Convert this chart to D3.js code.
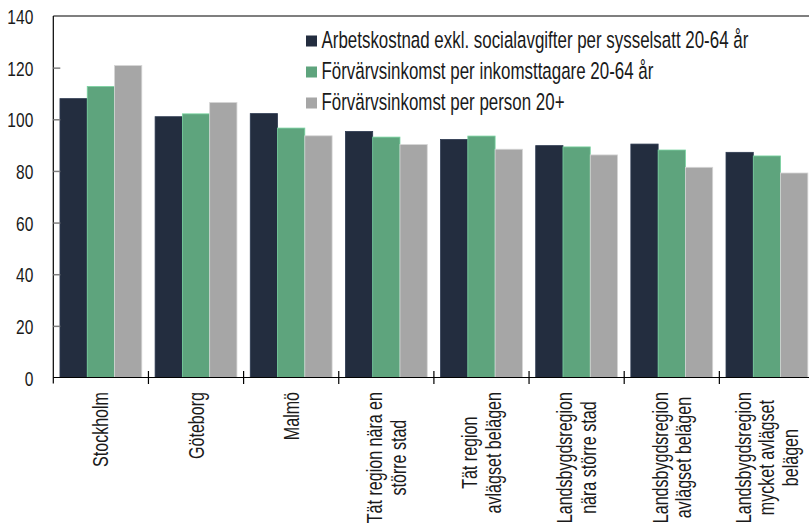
<!DOCTYPE html>
<html>
<head>
<meta charset="utf-8">
<script src="https://cdn.jsdelivr.net/npm/d3@7"></script>
<style>
  html, body { margin: 0; padding: 0; background: #fff; }
  svg { display: block; }
  text { font-family: "Liberation Sans", Arial, sans-serif; fill: #1a1a1a; }
</style>
</head>
<body>
<svg id="chart" width="809" height="526"></svg>
<script>
const categories = [
  ["Stockholm"],
  ["Göteborg"],
  ["Malmö"],
  ["Tät region nära en", "större stad"],
  ["Tät region", "avlägset belägen"],
  ["Landsbygdsregion", "nära större stad"],
  ["Landsbygdsregion", "avlägset belägen"],
  ["Landsbygdsregion", "mycket avlägset", "belägen"]
];
const seriesNames = [
  "Arbetskostnad exkl. socialavgifter per sysselsatt 20-64 år",
  "Förvärvsinkomst per inkomsttagare 20-64 år",
  "Förvärvsinkomst per person 20+"
];
const arbetskostnad = [108, 101, 102.2, 95.3, 92.2, 89.8, 90.4, 87.2];
const inkomstTagare = [112.7, 102.1, 96.6, 93.1, 93.5, 89.3, 88.1, 85.8];
const inkomstPerson = [120.8, 106.5, 93.6, 90.2, 88.4, 86.2, 81.4, 79.2];
const yTicks = [0, 20, 40, 60, 80, 100, 120, 140];
const colors = ["#232d3f", "#5ea47d", "#a6a6a6"];

const seriesValues = [arbetskostnad, inkomstTagare, inkomstPerson];
const catKeys = categories.map(c => c.join(" "));

const svg = d3.select("#chart");
const mLeft = 53.3, plotRight = 814.5, mTop = 16, mBottom = 377.5;

const x0 = d3.scaleBand().domain(catKeys).range([mLeft, plotRight]).padding(0);
const bw = x0.bandwidth();
const x1 = d3.scaleBand().domain(d3.range(3)).range([bw * 0.07, bw * 0.93]).padding(0);
const y = d3.scaleLinear().domain([0, 140]).range([mBottom, mTop]);

// Bars
const groups = svg.append("g").selectAll("g")
  .data(catKeys).join("g")
  .attr("transform", d => `translate(${x0(d)},0)`);

groups.selectAll("rect")
  .data((d, i) => seriesValues.map((vals, s) => ({ s, v: vals[i] })))
  .join("rect")
  .attr("x", d => x1(d.s))
  .attr("width", x1.bandwidth())
  .attr("y", d => y(d.v))
  .attr("height", d => y(0) - y(d.v))
  .attr("fill", d => colors[d.s])
  .attr("stroke", d => d3.color(colors[d.s]).brighter(0.7))
  .attr("stroke-width", 0.8);

// Frame top line
svg.append("line")
  .attr("x1", mLeft).attr("x2", 809).attr("y1", mTop).attr("y2", mTop)
  .attr("stroke", "#000").attr("stroke-width", 1.2);

// Y axis
const yAxis = d3.axisLeft(y).tickValues(yTicks).tickSize(-7).tickPadding(20);
const yg = svg.append("g").attr("transform", `translate(${mLeft},0)`).call(yAxis);
yg.select(".domain").attr("stroke", "#000").attr("stroke-width", 1.2)
  .attr("d", `M0,${mTop}V${mBottom + 6}`);
yg.selectAll(".tick line").attr("stroke", "#808080").attr("stroke-width", 1.5)
  .attr("display", d => (d === 0 || d === 140) ? "none" : null);
yg.selectAll(".tick text")
  .attr("font-size", "21px").attr("fill", "#1a1a1a")
  .attr("text-anchor", "end").attr("dy", "0.36em")
  .attr("x", 0)
  .attr("transform", "translate(-20,0) scale(0.74,1)")
  .style("font-family", "'Liberation Sans', Arial, sans-serif");

// X axis line
svg.append("line")
  .attr("x1", mLeft).attr("x2", 809).attr("y1", mBottom).attr("y2", mBottom)
  .attr("stroke", "#000").attr("stroke-width", 1.2);
// boundary ticks
const bounds = catKeys.map(k => x0(k)).slice(1);
svg.append("g").selectAll("line").data(bounds).join("line")
  .attr("x1", d => d).attr("x2", d => d)
  .attr("y1", mBottom - 6.5).attr("y2", mBottom + 6.5)
  .attr("stroke", "#000").attr("stroke-width", 1.2);

// Category labels
const lh = 23.5;
const labelTop = 392;
const kCat = 0.73;
categories.forEach((lines, i) => {
  const cx = x0(catKeys[i]) + bw / 2;
  const g = svg.append("g");
  const n = lines.length;
  const texts = g.selectAll("text").data(lines).join("text")
    .attr("text-anchor", "middle")
    .attr("font-size", "22px")
    .attr("x", 0)
    .attr("y", (d, j) => (j - (n - 1) / 2) * lh + 7.5)
    .text(d => d);
  let maxL = 0;
  texts.each(function () { maxL = Math.max(maxL, this.getComputedTextLength()); });
  g.attr("transform", `translate(${cx},${labelTop + maxL * kCat / 2}) rotate(-90) scale(${kCat},1)`);
});

// Legend
const legend = svg.append("g");
const legendRows = [41, 72, 103];
seriesNames.forEach((name, i) => {
  legend.append("rect")
    .attr("x", 306).attr("y", legendRows[i] - 5.5)
    .attr("width", 11).attr("height", 11)
    .attr("fill", colors[i]);
  legend.append("text")
    .attr("transform", `translate(321.5,${legendRows[i] + 6.8}) scale(0.72,1)`)
    .attr("font-size", "23.5px")
    .text(name);
});
</script>
</body>
</html>
